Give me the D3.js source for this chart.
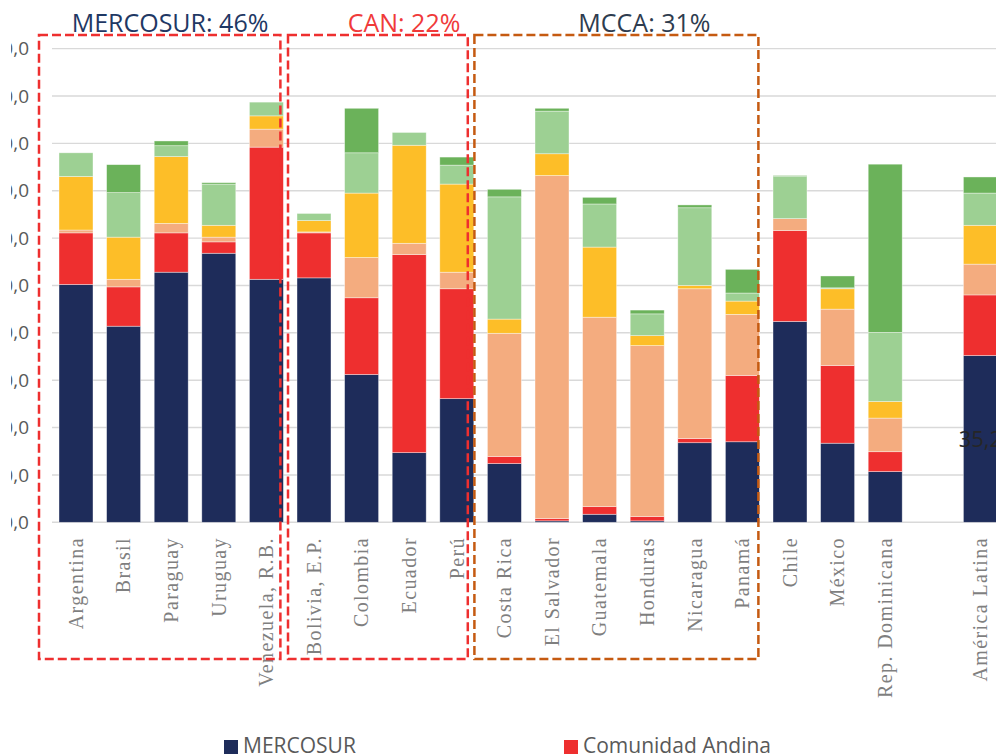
<!DOCTYPE html>
<html>
<head>
<meta charset="utf-8">
<script src="https://cdn.jsdelivr.net/npm/d3@7"></script>
<style>
  html, body { margin: 0; padding: 0; background: #fff; overflow: hidden; }
  svg { display: block; }
</style>
</head>
<body>
<svg id="chart" width="996" height="755"></svg>
<script>
// ---------- data ----------
const categories = ["Argentina","Brasil","Paraguay","Uruguay","Venezuela, R.B.",
  "Bolivia, E.P.","Colombia","Ecuador","Perú",
  "Costa Rica","El Salvador","Guatemala","Honduras","Nicaragua","Panamá",
  "Chile","México","Rep. Dominicana","","América Latina"];

const seriesNames = ["MERCOSUR","Comunidad Andina","MCCA","Chile","México","Resto de América Latina"];

const mercosur = [50.2,41.4,52.8,56.8,51.3,51.6,31.2,14.7,26.1,12.4,0.3,1.7,0.3,16.8,17.0,42.4,16.7,10.7,null,35.2];
const comunidadAndina = [10.9,8.3,8.3,2.4,27.9,9.5,16.2,41.8,23.2,1.5,0.5,1.6,0.9,0.9,14.0,19.2,16.4,4.2,null,12.8];
const mcca = [0.6,1.6,2.0,1.0,3.8,0.2,8.5,2.4,3.5,26.0,72.4,40.0,36.1,31.6,12.9,2.5,11.9,7.1,null,6.5];
const chile = [11.3,8.9,14.1,2.5,2.8,2.4,13.6,20.7,18.6,3.0,4.6,14.8,2.1,0.7,2.8,0,4.3,3.5,null,8.2];
const mexico = [5.0,9.4,2.3,8.7,2.9,1.5,8.5,2.7,4.0,25.8,9.0,9.1,4.6,16.4,1.7,8.9,0.2,14.6,null,6.8];
const resto = [0,5.9,1.0,0.3,0,0,9.4,0,1.7,1.6,0.6,1.4,0.8,0.6,5.0,0.2,2.5,35.5,null,3.4];

const yTicks = [0,10,20,30,40,50,60,70,80,90,100];

const groupLabels = ["MERCOSUR: 46%", "CAN: 22%", "MCCA: 31%"];
const groupFirst = ["Argentina", "Bolivia, E.P.", "Costa Rica"];
const groupLast = ["Venezuela, R.B.", "Perú", "Panamá"];

const labelCategory = "América Latina";   // only data label shown
const legendShown = ["MERCOSUR", "Comunidad Andina"]; // legend row visible in the frame

// ---------- styles ----------
const colors = ["#1E2C5A","#EE2F2F","#F4AC7F","#FDBE28","#9DD093","#6BB25A"];
const groupStyle = [
  { stroke: "#EE2F2F", text: "#1F3864", padL: 20, padR: 3, titleDx: 131 },
  { stroke: "#EE2F2F", text: "#F03A3A", padL: 9,  padR: 6, titleDx: 116 },
  { stroke: "#C55A11", text: "#2E3C4F", padL: 13, padR: 1, titleDx: 170 }
];

// ---------- build table ----------
const seriesArrays = [mercosur, comunidadAndina, mcca, chile, mexico, resto];
const table = categories.map((c, i) => {
  const row = { cat: c };
  seriesNames.forEach((s, k) => { row[s] = seriesArrays[k][i] || 0; });
  return row;
}).filter(r => r.cat !== "");

// ---------- scales ----------
const svg = d3.select("#chart");
const x = d3.scaleBand().domain(categories).range([52.2, 1004.2]).paddingInner(0.286).paddingOuter(0.143);
const y = d3.scaleLinear().domain([0, 100]).range([522.3, 48.6]);

// gridlines
svg.append("g").selectAll("line").data(yTicks).join("line")
  .attr("x1", 52).attr("x2", 996)
  .attr("y1", d => y(d)).attr("y2", d => y(d))
  .attr("stroke", "#D9D9D9").attr("stroke-width", 1.4);

// y labels (clipped on left as in reference)
svg.append("defs").append("clipPath").attr("id", "yclip")
  .append("rect").attr("x", 11).attr("y", 0).attr("width", 40).attr("height", 560);
const yAxis = d3.axisLeft(y).tickValues(yTicks).tickSize(0).tickPadding(0)
  .tickFormat(d => d3.format(".1f")(d).replace(".", ","));
const yg = svg.append("g").attr("clip-path", "url(#yclip)")
  .append("g").attr("transform", "translate(29,0)").call(yAxis);
yg.select(".domain").remove();
yg.selectAll("text").attr("font-family", "'Open Sans', sans-serif").attr("font-size", 19)
  .attr("fill", "#595959");

// stacked bars
const stack = d3.stack().keys(seriesNames);
const stacked = stack(table);
svg.append("g").selectAll("g").data(stacked).join("g")
  .attr("fill", (d, i) => colors[i])
  .selectAll("rect").data(d => d).join("rect")
  .attr("x", d => x(d.data.cat))
  .attr("width", x.bandwidth())
  .attr("y", d => y(d[1]))
  .attr("height", d => Math.max(0, y(d[0]) - y(d[1])))
  .attr("stroke", "#ffffff").attr("stroke-opacity", 0.55).attr("stroke-width", 0.7);

// data label
const li = categories.indexOf(labelCategory);
svg.append("text")
  .attr("x", x(labelCategory) + x.bandwidth() / 2)
  .attr("y", y(mercosur[li] / 2))
  .attr("dy", "0.36em")
  .attr("text-anchor", "middle")
  .attr("font-family", "'Open Sans', sans-serif").attr("font-size", 22)
  .attr("fill", "#262626")
  .text(d3.format(".1f")(mercosur[li]).replace(".", ","));

// x labels
const xg = svg.append("g");
categories.filter(c => c !== "").forEach(c => {
  xg.append("text")
    .attr("transform", `translate(${x(c) + x.bandwidth() / 2},537) rotate(-90)`)
    .attr("dy", "0.34em")
    .attr("text-anchor", "end")
    .attr("font-family", "'Liberation Serif', 'Times New Roman', serif")
    .attr("font-size", 20)
    .attr("letter-spacing", 1.4)
    .attr("fill", "#7F7F7F")
    .text(c);
});

// group boxes + titles
const boxTop = 35, boxBottom = 659;
groupLabels.forEach((label, gi) => {
  const st = groupStyle[gi];
  const left = x(groupFirst[gi]) - st.padL;
  const right = x(groupLast[gi]) + x.bandwidth() - st.padR;
  svg.append("rect")
    .attr("x", left).attr("y", boxTop)
    .attr("width", right - left).attr("height", boxBottom - boxTop)
    .attr("fill", "none").attr("stroke", st.stroke)
    .attr("stroke-width", 2.5).attr("stroke-dasharray", "9,4");
  svg.append("text")
    .attr("x", left + st.titleDx)
    .attr("y", 32)
    .attr("text-anchor", "middle")
    .attr("font-family", "'Open Sans', sans-serif").attr("font-size", 25)
    .attr("fill", st.text)
    .text(label);
});

// legend (only the row visible in the frame)
const legend = svg.append("g");
legendShown.forEach((s, i) => {
  const lx = i === 0 ? 224 : 564;
  const ly = 740;
  legend.append("rect").attr("x", lx).attr("y", ly).attr("width", 14).attr("height", 14)
    .attr("fill", colors[seriesNames.indexOf(s)]);
  legend.append("text").attr("x", lx + 19).attr("y", ly + 13)
    .attr("font-family", "'Open Sans', sans-serif").attr("font-size", 21)
    .attr("fill", "#595959").text(s);
});
</script>
</body>
</html>
